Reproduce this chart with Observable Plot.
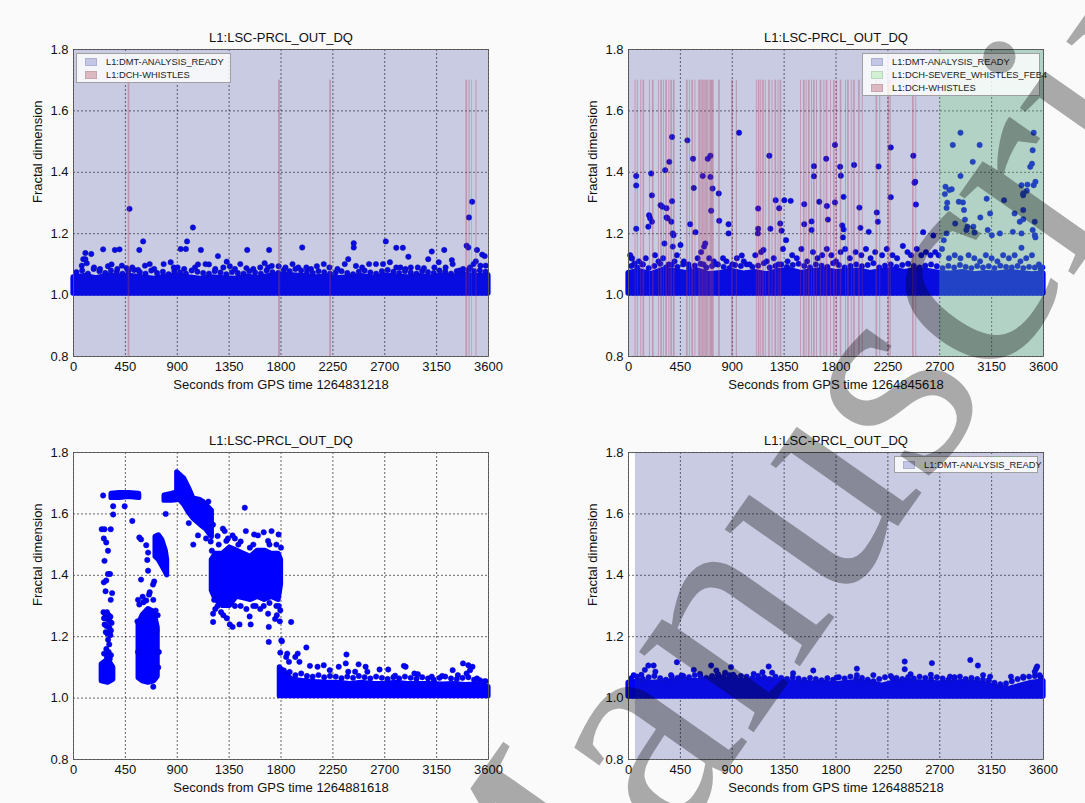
<!DOCTYPE html>
<html><head><meta charset="utf-8">
<script src="https://cdn.jsdelivr.net/npm/d3@7"></script>
<script src="https://cdn.jsdelivr.net/npm/@observablehq/plot@0.6"></script>
<style>
body{margin:0;background:#fafafa;}
#page{position:relative;width:1085px;height:803px;overflow:hidden;font-family:"Liberation Sans",Arial,sans-serif;}
.panel{position:absolute;}
.legend{position:absolute;background:rgba(255,255,255,0.82);border:1px solid #a0a0a0;font-size:9.3px;color:#222;box-sizing:border-box;padding:1px 0 1px 8px;}
.legend .row{display:flex;align-items:center;height:13px;white-space:nowrap;}
.legend .sw{display:inline-block;flex:none;width:12px;height:8px;margin-right:9px;box-sizing:border-box;border:1px solid rgba(0,0,0,0.1);}
#wm{position:absolute;left:0;top:0;pointer-events:none;}
</style>
</head><body><div id="page"></div>
<script>
// ---------- shared axes / labels ----------
const xTicks = [0,450,900,1350,1800,2250,2700,3150,3600];
const yTicks = [0.8,1.0,1.2,1.4,1.6,1.8];
const xDomain = [0,3600];
const yDomain = [0.8,1.8];
const titleText = "L1:LSC-PRCL_OUT_DQ";
const yLabel = "Fractal dimension";
const gpsTimes = ["1264831218","1264845618","1264881618","1264885218"];
const legendReady = "L1:DMT-ANALYSIS_READY";
const legendSevere = "L1:DCH-SEVERE_WHISTLES_FEB4";
const legendWhistles = "L1:DCH-WHISTLES";
const whistleTop = 1.7;
const bandX = [0,100,200,300,400,500,600,700,800,900,1000,1100,1200,1300,1400,1500,1600,1700,1800,1900,2000,2100,2200,2300,2400,2500,2600,2700,2800,2900,3000,3100,3200,3300,3400,3500,3600];
const edgeX = [25,75,125,175,225,275,325,375,425,475,525,575,625,675,725,775,825,875,925,975,1025,1075,1125,1175,1225,1275,1325,1375,1425,1475,1525,1575,1625,1675,1725,1775,1825,1875,1925,1975,2025,2075,2125,2175,2225,2275,2325,2375,2425,2475,2525,2575,2625,2675,2725,2775,2825,2875,2925,2975,3025,3075,3125,3175,3225,3275,3325,3375,3425,3475,3525,3575];

// ---------- panel 1 (GPS 1264831218) ----------
const p1ReadyStart = 0;
const p1BandFloor = 1.005;
const p1BandTop = [1.058,1.062,1.055,1.064,1.06,1.062,1.058,1.053,1.06,1.064,1.058,1.053,1.058,1.055,1.053,1.06,1.056,1.062,1.066,1.064,1.062,1.058,1.06,1.055,1.058,1.062,1.056,1.064,1.06,1.058,1.062,1.058,1.064,1.06,1.066,1.062,1.064];
const p1Edge = [1.075,1.08,1.07,1.085,1.078,1.072,1.08,1.075,1.07,1.078,1.082,1.075,1.07,1.08,1.072,1.076,1.068,1.078,1.074,1.07,1.08,1.076,1.072,1.07,1.078,1.074,1.068,1.075,1.072,1.07,1.078,1.074,1.07,1.08,1.075,1.072,1.082,1.078,1.085,1.08,1.076,1.072,1.078,1.075,1.07,1.074,1.078,1.072,1.068,1.076,1.08,1.074,1.07,1.078,1.082,1.076,1.072,1.078,1.074,1.07,1.078,1.075,1.072,1.08,1.076,1.07,1.078,1.074,1.082,1.078,1.08,1.076];
const p1WhistleStart = [474,1779,2223,3404,3431,3455,3491];
const p1WhistleEnd   = [489,1797,2238,3419,3440,3461,3500];
const p1Near = [[72,1.096],[85,1.117],[103,1.117],[115,1.104],[178,1.09],[230,1.085],[299,1.094],[330,1.10],[380,1.085],[420,1.096],[460,1.088],[510,1.09],[560,1.082],[620,1.096],[661,1.101],[700,1.085],[782,1.101],[843,1.107],[870,1.09],[903,1.09],[960,1.085],[1054,1.09],[1080,1.10],[1145,1.101],[1175,1.10],[1230,1.085],[1300,1.09],[1356,1.094],[1400,1.085],[1447,1.101],[1500,1.088],[1560,1.085],[1620,1.09],[1658,1.104],[1688,1.09],[1720,1.095],[1779,1.094],[1839,1.09],[1900,1.101],[1950,1.09],[2020,1.09],[2060,1.085],[2111,1.094],[2171,1.101],[2220,1.09],[2290,1.085],[2353,1.101],[2383,1.117],[2450,1.095],[2504,1.09],[2564,1.101],[2624,1.101],[2685,1.101],[2745,1.107],[2800,1.09],[2836,1.09],[2880,1.085],[2926,1.09],[2987,1.09],[3040,1.088],[3077,1.117],[3130,1.09],[3168,1.107],[3228,1.09],[3289,1.101],[3349,1.08],[3380,1.085],[3440,1.09],[3490,1.11],[3530,1.096],[3576,1.096]];
const p1Outliers = [[486,1.281],[1036,1.220],[604,1.175],[985,1.175],[930,1.150],[975,1.150],[103,1.137],[154,1.134],[257,1.149],[359,1.147],[399,1.149],[571,1.147],[1105,1.147],[1253,1.127],[1329,1.109],[1507,1.147],[1697,1.147],[1984,1.155],[2431,1.169],[2431,1.155],[2709,1.175],[2800,1.154],[2857,1.154],[2905,1.125],[3108,1.142],[3216,1.147],[3282,1.114],[3410,1.161],[3431,1.253],[3458,1.304],[3500,1.147],[3545,1.132],[3567,1.127],[3470,1.101],[3425,1.155]];

// ---------- panel 2 (GPS 1264845618) ----------
const p2ReadyStart = 0;
const p2SevereStart = 2700;
const p2BandFloor = 1.005;
const p2BandTop = [1.072,1.078,1.068,1.082,1.078,1.072,1.08,1.068,1.072,1.078,1.07,1.075,1.068,1.078,1.082,1.072,1.078,1.082,1.075,1.078,1.08,1.072,1.078,1.082,1.075,1.082,1.078,1.072,1.07,1.075,1.068,1.072,1.07,1.075,1.072,1.068,1.07];
const p2Edge = [1.095,1.09,1.1,1.088,1.095,1.102,1.09,1.098,1.092,1.1,1.088,1.096,1.102,1.09,1.095,1.1,1.092,1.088,1.098,1.095,1.1,1.092,1.096,1.104,1.09,1.095,1.1,1.092,1.098,1.102,1.095,1.09,1.1,1.096,1.092,1.104,1.098,1.09,1.095,1.1,1.094,1.098,1.104,1.09,1.096,1.1,1.092,1.098,1.102,1.095,1.09,1.096,1.1,1.094,1.088,1.095,1.09,1.098,1.092,1.088,1.095,1.09,1.094,1.088,1.096,1.092,1.09,1.095,1.088,1.092,1.09,1.085];
const p2WhistleCenter = [61,81,110,133,186,215,264,287,307,330,354,374,397,510,533,557,580,617,632,646,661,678,693,713,725,736,789,902,940,1113,1133,1151,1171,1191,1223,1249,1278,1302,1322,1496,1525,1545,1568,1592,1612,1635,1670,1699,1722,1757,1786,1809,1844,1887,1908,1937,1960,2003,2032,2154,2184,2260,2275,2471,2496];
const p2WhistleWidth  = [8,8,8,14,8,14,8,14,8,14,8,14,14,14,8,14,8,16,8,16,10,16,10,16,10,14,14,14,10,8,14,8,14,8,14,8,14,8,14,8,14,8,14,8,14,8,14,8,14,8,14,8,14,8,14,8,14,14,8,14,8,14,8,14,8];
const p2Near = [[30,1.12],[90,1.11],[120,1.10],[150,1.12],[230,1.13],[260,1.11],[300,1.12],[350,1.10],[400,1.11],[420,1.13],[480,1.11],[520,1.10],[600,1.12],[630,1.14],[650,1.10],[700,1.12],[740,1.11],[770,1.10],[820,1.12],[850,1.11],[900,1.10],[940,1.12],[1000,1.11],[1050,1.10],[1100,1.13],[1150,1.14],[1200,1.11],[1260,1.12],[1300,1.10],[1340,1.15],[1380,1.11],[1420,1.13],[1460,1.12],[1500,1.15],[1550,1.11],[1600,1.14],[1640,1.12],[1680,1.13],[1720,1.15],[1760,1.13],[1800,1.11],[1840,1.14],[1880,1.15],[1920,1.12],[1970,1.14],[2020,1.13],[2060,1.15],[2100,1.12],[2140,1.14],[2200,1.13],[2240,1.15],[2290,1.13],[2330,1.12],[2380,1.16],[2420,1.14],[2450,1.13],[2500,1.15],[2540,1.13],[2580,1.14],[2620,1.13],[2660,1.14],[2690,1.13],[2720,1.15],[2780,1.12],[2830,1.13],[2880,1.12],[2950,1.13],[3000,1.12],[3050,1.11],[3100,1.13],[3150,1.12],[3200,1.11],[3250,1.13],[3300,1.12],[3350,1.13],[3400,1.11],[3450,1.12],[3500,1.13],[3560,1.10],[3590,1.09]];
const p2Outliers = [[15,1.130],[27,1.120],[67,1.388],[67,1.357],[67,1.216],[51,1.103],[197,1.396],[203,1.325],[178,1.260],[188,1.250],[203,1.239],[172,1.223],[278,1.293],[293,1.288],[330,1.283],[318,1.407],[354,1.434],[378,1.515],[378,1.306],[330,1.253],[339,1.250],[372,1.239],[384,1.201],[390,1.195],[384,1.158],[312,1.168],[451,1.163],[511,1.504],[535,1.231],[560,1.444],[566,1.349],[581,1.205],[644,1.388],[656,1.158],[666,1.168],[687,1.444],[711,1.454],[711,1.385],[717,1.275],[729,1.347],[787,1.242],[783,1.331],[868,1.201],[868,1.231],[959,1.529],[983,1.129],[1122,1.201],[1125,1.282],[1125,1.216],[1171,1.147],[1222,1.454],[1231,1.216],[1277,1.309],[1307,1.283],[1316,1.233],[1328,1.210],[1352,1.309],[1367,1.179],[1407,1.307],[1525,1.296],[1525,1.231],[1588,1.240],[1588,1.212],[1609,1.387],[1609,1.420],[1655,1.304],[1715,1.444],[1721,1.290],[1730,1.246],[1791,1.489],[1791,1.302],[1836,1.418],[1842,1.389],[1866,1.320],[1854,1.227],[1866,1.214],[1860,1.188],[1957,1.424],[2003,1.285],[2012,1.219],[2084,1.206],[2154,1.269],[2163,1.239],[2169,1.419],[2275,1.481],[2275,1.319],[2471,1.454],[2481,1.366],[2487,1.369],[2493,1.295],[2556,1.205],[2644,1.194],[2735,1.179],[2744,1.329],[2750,1.353],[2759,1.201],[2759,1.284],[2765,1.301],[2783,1.342],[2804,1.345],[2813,1.489],[2834,1.233],[2865,1.304],[2880,1.529],[2901,1.302],[2880,1.388],[2910,1.277],[2919,1.246],[2931,1.212],[2940,1.223],[2986,1.434],[2992,1.223],[3001,1.204],[3046,1.489],[3052,1.253],[3107,1.314],[3116,1.212],[3137,1.266],[3152,1.195],[3222,1.201],[3258,1.309],[3334,1.206],[3349,1.266],[3394,1.239],[3409,1.358],[3424,1.331],[3424,1.325],[3424,1.277],[3424,1.247],[3409,1.201],[3455,1.340],[3461,1.360],[3485,1.418],[3500,1.428],[3506,1.472],[3515,1.529],[3506,1.212],[3524,1.195],[3524,1.239],[3530,1.188],[3530,1.369],[3515,1.358],[3409,1.154]];

// ---------- panel 3 (GPS 1264881618) ----------
const p3BandX = [1790,1850,1900,2000,2100,2200,2300,2400,2500,2600,2700,2800,2900,3000,3100,3200,3300,3400,3500,3600];
const p3BandTop = [1.10,1.075,1.06,1.055,1.052,1.05,1.05,1.046,1.05,1.046,1.046,1.05,1.046,1.046,1.046,1.044,1.046,1.042,1.044,1.036];
const p3BandFloor = 1.006;
const p3EdgeX = [1825,1875,1925,1975,2025,2075,2125,2175,2225,2275,2325,2375,2425,2475,2525,2575,2625,2675,2725,2775,2825,2875,2925,2975,3025,3075,3125,3175,3225,3275,3325,3375,3425,3475,3525,3575];
const p3Edge = [1.09,1.085,1.075,1.08,1.072,1.07,1.075,1.068,1.072,1.07,1.065,1.07,1.066,1.072,1.068,1.064,1.07,1.066,1.062,1.068,1.064,1.07,1.066,1.062,1.068,1.064,1.06,1.066,1.07,1.064,1.062,1.066,1.068,1.06,1.058,1.055];
// dense clusters: x, lower edge, upper edge
const p3ClusterAX = [245,300,345], p3ClusterALo = [1.055,1.05,1.06], p3ClusterAHi = [1.11,1.125,1.10];
const p3PlateauX = [330,400,480,570], p3PlateauLo = [1.652,1.652,1.655,1.652], p3PlateauHi = [1.665,1.668,1.668,1.665];
const p3ClusterBX = [565,600,650,700,730], p3ClusterBLo = [1.065,1.055,1.05,1.055,1.07], p3ClusterBHi = [1.24,1.27,1.29,1.28,1.23];
const p3ClusterCX = [712,740,770,800,812], p3ClusterCLo = [1.46,1.45,1.43,1.41,1.40], p3ClusterCHi = [1.525,1.53,1.515,1.48,1.45];
const p3ClusterDX = [790,850,900], p3ClusterDLo = [1.643,1.643,1.645], p3ClusterDHi = [1.66,1.665,1.67];
const p3ClusterEX = [900,960,1000,1040,1100,1150,1200], p3ClusterELo = [1.655,1.63,1.605,1.585,1.565,1.55,1.525], p3ClusterEHi = [1.735,1.715,1.685,1.65,1.645,1.63,1.61];
const p3ClusterFX = [1200,1235,1296,1356,1416,1477,1537,1598,1658,1718,1779,1800], p3ClusterFLo = [1.35,1.32,1.30,1.30,1.33,1.325,1.32,1.33,1.32,1.33,1.32,1.37], p3ClusterFHi = [1.45,1.47,1.47,1.49,1.48,1.47,1.46,1.48,1.48,1.47,1.47,1.45];
const p3Scatter = [[257,1.66],[245,1.55],[269,1.55],[323,1.55],[263,1.52],[284,1.507],[299,1.48],[269,1.447],[299,1.404],[317,1.404],[263,1.377],[284,1.383],[278,1.348],[335,1.342],[323,1.32],
[260,1.28],[275,1.275],[290,1.28],[305,1.27],[320,1.265],[265,1.26],[300,1.255],[315,1.25],[330,1.245],[270,1.24],[285,1.235],[310,1.23],[325,1.22],[280,1.215],[295,1.21],[320,1.205],[300,1.19],[310,1.175],[285,1.16],[305,1.15],[325,1.14],[265,1.145],[290,1.135],[315,1.128],
[344,1.625],[344,1.598],[444,1.625],[510,1.577],
[571,1.523],[586,1.517],[631,1.498],[647,1.474],[640,1.45],[647,1.415],[586,1.386],[661,1.345],[655,1.337],[631,1.318],[607,1.312],[571,1.305],[692,1.32],[713,1.285],[692,1.037],[720,1.22],[730,1.27],[700,1.38],[690,1.37],[560,1.32],[600,1.33],[555,1.25],[560,1.15],[740,1.15],[735,1.10],
[800,1.60],[1039,1.50],[1080,1.53],[1150,1.52],[1190,1.51],[1210,1.565],[1170,1.64],[1120,1.64],[1000,1.57],
[1211,1.275],[1211,1.248],[1356,1.24],[1380,1.232],[1440,1.24],[1537,1.24],[1528,1.266],[1688,1.275],[1694,1.232],[1749,1.258],[1694,1.183],[1764,1.27],[1794,1.286],[1486,1.62],[1495,1.544],[1567,1.533],[1296,1.552],[1311,1.544],[1250,1.528],[1326,1.512],[1718,1.544],[1779,1.533],[1688,1.512],[1400,1.52],[1450,1.51],[1600,1.53],[1650,1.54],[1300,1.27],[1330,1.26],[1250,1.30],[1220,1.32],[1808,1.185],[1790,1.25],[1760,1.30],[1500,1.29],[1620,1.29],[1580,1.30],
[1200,1.48],[1260,1.50],[1340,1.52],[1380,1.53],[1430,1.50],[1530,1.49],[1560,1.50],[1700,1.50],[1760,1.50],[1800,1.49],[1230,1.29],[1280,1.28],[1400,1.30],[1450,1.30],[1560,1.30],[1650,1.30],[1700,1.31],[1780,1.30],
[1888,1.248],[1794,1.148],[1803,1.188],[1854,1.145],[1845,1.134],[1869,1.118],[1924,1.134],[1945,1.145],[2020,1.165],[1960,1.118],[2051,1.105],[2117,1.102],[2171,1.107],[2223,1.091],[2368,1.142],[2362,1.113],[2301,1.102],[2473,1.110],[2534,1.102],[2549,1.086],[2655,1.093],[2730,1.093],[2790,1.073],[2866,1.105],[2881,1.102],[2957,1.080],[3108,1.070],[3289,1.091],[3379,1.113],[3425,1.107],[3461,1.102],[3440,1.091],[3410,1.080],[3334,1.075],[3500,1.064],[3561,1.054],[2383,1.086],[2443,1.086],[2987,1.078],[3198,1.072]];

// ---------- panel 4 (GPS 1264885218) ----------
const p4ReadyStart = 60;
const p4BandFloor = 1.005;
const p4BandTop = [1.05,1.055,1.05,1.052,1.055,1.058,1.055,1.06,1.062,1.058,1.055,1.058,1.06,1.055,1.052,1.05,1.048,1.05,1.045,1.05,1.052,1.05,1.04,1.05,1.055,1.052,1.05,1.048,1.05,1.052,1.05,1.045,1.035,1.03,1.04,1.05,1.055];
const p4Edge = [1.065,1.07,1.062,1.068,1.072,1.065,1.06,1.07,1.066,1.072,1.068,1.075,1.07,1.066,1.072,1.078,1.07,1.075,1.068,1.072,1.07,1.065,1.072,1.068,1.062,1.07,1.066,1.062,1.068,1.064,1.06,1.066,1.062,1.058,1.065,1.06,1.068,1.064,1.07,1.062,1.066,1.06,1.055,1.062,1.068,1.072,1.066,1.062,1.068,1.064,1.07,1.066,1.062,1.068,1.064,1.06,1.066,1.07,1.062,1.066,1.062,1.06,1.058,1.05,1.045,1.048,1.055,1.062,1.066,1.07,1.072,1.068];
const p4Scatter = [[45,1.075],[112,1.076],[142,1.092],[172,1.106],[218,1.106],[233,1.086],[420,1.117],[369,1.075],[460,1.074],[566,1.092],[620,1.079],[717,1.106],[762,1.090],[777,1.076],[838,1.083],[889,1.101],[908,1.076],[1086,1.079],[1162,1.084],[1216,1.103],[1246,1.083],[1428,1.081],[1603,1.090],[1806,1.067],[1981,1.096],[1981,1.075],[2124,1.075],[2290,1.065],[2396,1.119],[2396,1.094],[2447,1.078],[2632,1.114],[2623,1.076],[2789,1.070],[2828,1.068],[2965,1.124],[3031,1.106],[3076,1.075],[3137,1.070],[3318,1.070],[3424,1.070],[3524,1.086],[3536,1.096],[3545,1.103],[3566,1.075]];

// ---------- colours ----------
const BLUE = "#0000ff";
const READY_TINT = "#232f87";
const SEVERE_TINT = "#6fe874";
const WHISTLE_TINT = "#b03858";

const toArea = (xs, lo, hi) => xs.map((x, i) => ({x, lo: Array.isArray(lo) ? lo[i] : lo, hi: hi[i]}));
const toPts = arr => arr.map(([x, y]) => ({x, y}));
const zipPts = (xs, ys) => xs.map((x, i) => [x, ys[i]]);

function panel(o) {
  const marks = [Plot.frame({fill: o.bg || "#ffffff"})];
  marks.push(Plot.gridX(xTicks, {stroke: "#000", strokeOpacity: 0.85, strokeDasharray: "2,2", strokeWidth: 0.7}));
  marks.push(Plot.gridY(yTicks, {stroke: "#000", strokeOpacity: 0.85, strokeDasharray: "2,2", strokeWidth: 0.7}));
  for (const a of o.areas) {
    marks.push(Plot.areaY(a, {x: "x", y1: "lo", y2: "hi", fill: BLUE, stroke: BLUE, strokeWidth: 5.2, strokeLinejoin: "round"}));
  }
  marks.push(Plot.dot(toPts(o.dots), {x: "x", y: "y", r: 2.7, fill: BLUE, stroke: "#0000b8", strokeWidth: 0.5}));
  if (o.ready != null) {
    marks.push(Plot.rect([{x1: o.ready, x2: xDomain[1]}], {x1: "x1", x2: "x2", y1: () => yDomain[0], y2: () => yDomain[1], fill: READY_TINT, fillOpacity: 0.25}));
  }
  if (o.severe != null) {
    marks.push(Plot.rect([{x1: o.severe, x2: xDomain[1]}], {x1: "x1", x2: "x2", y1: () => yDomain[0], y2: () => yDomain[1], fill: SEVERE_TINT, fillOpacity: 0.25}));
  }
  if (o.whistles) {
    marks.push(Plot.rect(o.whistles, {x1: "x1", x2: "x2", y1: () => yDomain[0], y2: () => whistleTop, fill: WHISTLE_TINT, fillOpacity: 0.35}));
  }
  marks.push(Plot.frame({stroke: "#555", strokeWidth: 0.9}));
  marks.push(Plot.axisX(xTicks, {tickSize: 0, tickPadding: 5, tickFormat: d => String(d), fontSize: 13, label: null}));
  marks.push(Plot.axisY(yTicks, {tickSize: 0, tickPadding: 5, tickFormat: d3.format(".1f"), fontSize: 13, label: null}));
  marks.push(Plot.text([titleText], {text: d => d, frameAnchor: "top", lineAnchor: "middle", dy: -12, fontSize: 13, fill: "#111"}));
  marks.push(Plot.text([yLabel], {text: d => d, frameAnchor: "left", dx: -36, rotate: -90, fontSize: 13, fill: "#111"}));
  marks.push(Plot.text(["Seconds from GPS time " + o.gps], {text: d => d, frameAnchor: "bottom", lineAnchor: "middle", dy: 28, fontSize: 13, fill: "#111"}));
  return Plot.plot({
    width: 540, height: 400,
    marginLeft: 73, marginRight: 52, marginTop: 49, marginBottom: 44,
    x: {domain: xDomain}, y: {domain: yDomain},
    style: {fontFamily: '"Liberation Sans", Arial, sans-serif', fontSize: "13px", background: "transparent", color: "#111", overflow: "visible"},
    marks
  });
}

const page = document.getElementById("page");
function place(el, left, top) { el.classList.add("panel"); el.style.left = left + "px"; el.style.top = top + "px"; page.appendChild(el); }

const p1 = panel({
  gps: gpsTimes[0], ready: p1ReadyStart,
  whistles: p1WhistleStart.map((s, i) => ({x1: s, x2: p1WhistleEnd[i]})),
  areas: [toArea(bandX, p1BandFloor, p1BandTop)],
  dots: zipPts(edgeX, p1Edge).concat(p1Near, p1Outliers)
});
const p2 = panel({
  gps: gpsTimes[1], ready: p2ReadyStart, severe: p2SevereStart,
  whistles: p2WhistleCenter.map((c, i) => ({x1: c - p2WhistleWidth[i] / 2, x2: c + p2WhistleWidth[i] / 2})),
  areas: [toArea(bandX, p2BandFloor, p2BandTop)],
  dots: zipPts(edgeX, p2Edge).concat(p2Near, p2Outliers)
});
const p3 = panel({
  gps: gpsTimes[2], bg: "#fafafa",
  areas: [
    toArea(p3BandX, p3BandFloor, p3BandTop),
    toArea(p3ClusterAX, p3ClusterALo, p3ClusterAHi),
    toArea(p3PlateauX, p3PlateauLo, p3PlateauHi),
    toArea(p3ClusterBX, p3ClusterBLo, p3ClusterBHi),
    toArea(p3ClusterCX, p3ClusterCLo, p3ClusterCHi),
    toArea(p3ClusterDX, p3ClusterDLo, p3ClusterDHi),
    toArea(p3ClusterEX, p3ClusterELo, p3ClusterEHi),
    toArea(p3ClusterFX, p3ClusterFLo, p3ClusterFHi)
  ],
  dots: zipPts(p3EdgeX, p3Edge).concat(p3Scatter)
});
const p4 = panel({
  gps: gpsTimes[3], ready: p4ReadyStart,
  areas: [toArea(bandX, p4BandFloor, p4BandTop)],
  dots: zipPts(edgeX, p4Edge).concat(p4Scatter)
});
place(p1, 0, 0); place(p2, 555, 0); place(p3, 0, 403); place(p4, 555, 403);

// ---------- legends ----------
const SW_READY = "#c4c6e6", SW_SEVERE = "#d2f0d2", SW_WHISTLE = "#dcb8c2";
function legend(left, top, width, rows) {
  const d = document.createElement("div");
  d.className = "legend";
  d.style.left = left + "px"; d.style.top = top + "px"; d.style.width = width + "px";
  for (const [label, color] of rows) {
    const r = document.createElement("div"); r.className = "row";
    const s = document.createElement("span"); s.className = "sw"; s.style.background = color;
    const t = document.createElement("span"); t.textContent = label;
    r.appendChild(s); r.appendChild(t); d.appendChild(r);
  }
  page.appendChild(d);
}
legend(76, 53, 155, [[legendReady, SW_READY], [legendWhistles, SW_WHISTLE]]);
legend(862, 53, 178, [[legendReady, SW_READY], [legendSevere, SW_SEVERE], [legendWhistles, SW_WHISTLE]]);
legend(894, 456, 144, [[legendReady, SW_READY]]);

// ---------- watermark ----------
const wmText = "Manuscript";
const svgNS = "http://www.w3.org/2000/svg";
const wm = document.createElementNS(svgNS, "svg");
wm.setAttribute("id", "wm"); wm.setAttribute("width", 1085); wm.setAttribute("height", 803);
const t = document.createElementNS(svgNS, "text");
t.setAttribute("x", 432); t.setAttribute("y", 1012);
t.setAttribute("transform", "rotate(-55 432 1012)");
t.setAttribute("font-family", '"Liberation Serif", "Times New Roman", serif');
t.setAttribute("font-size", 305);
t.setAttribute("dominant-baseline", "central");
t.setAttribute("fill", "#000"); t.setAttribute("fill-opacity", 0.32);
t.textContent = wmText;
wm.appendChild(t);
page.appendChild(wm);
</script>
</body></html>
